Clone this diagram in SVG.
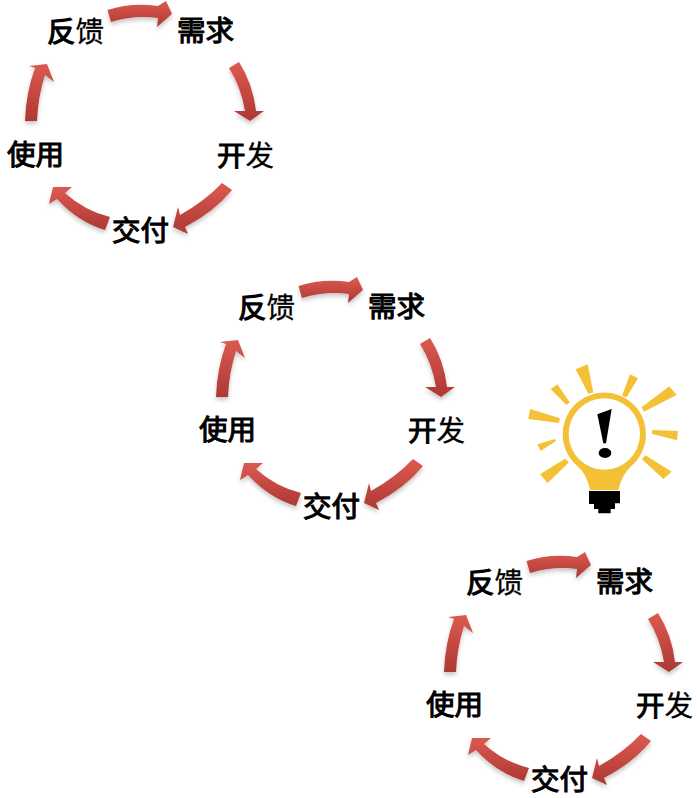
<svg xmlns="http://www.w3.org/2000/svg" xmlns:xlink="http://www.w3.org/1999/xlink" width="697" height="798" viewBox="0 0 697 798">
<style>
text{font-family:"Noto Sans CJK SC","Noto Sans",sans-serif;font-size:28.500px;font-weight:400;fill:#000;stroke:#000;stroke-width:1.100px}
.l{stroke-width:.3px}
.a{fill:url(#g);filter:url(#s)}
.y{fill:#f4c136}
.k{fill:#000}
</style>
<defs>
<linearGradient id="g" x1="0" y1="0" x2="0" y2="1"><stop offset="0" stop-color="#dc5a50"/><stop offset="1" stop-color="#ad3833"/></linearGradient>
<filter id="s" x="-30%" y="-30%" width="160%" height="170%"><feDropShadow dx="0" dy="3" stdDeviation="2" flood-color="#000" flood-opacity=".22"/></filter>
<path id="a1" d="M107.500 10Q132 2 158 6L166 1L172 14L157 27L158 18Q134 15 111 22Z"/>
<path id="a2" d="M229 68L239 62Q253 84 256 111L264 111L250 121L234 111L245 111Q241 87 229 68Z"/>
<path id="a3" d="M232 190L222 183Q205 201 180 215L178 207L173 227L188 234L185 227Q214 212 232 190Z"/>
<path id="a4" d="M110 217L105 230Q78 222 57 199L49 204L53 187L72 187L65 193Q85 211 110 217Z"/>
<path id="a5" d="M25 121Q26 92 35 68L29 66L47 64L54 82L45 75Q38 97 37 121Z"/>
</defs>
<g id="connectors">
<use xlink:href="#a1" class="a"/><use xlink:href="#a2" class="a"/><use xlink:href="#a3" class="a"/><use xlink:href="#a4" class="a"/><use xlink:href="#a5" class="a"/>
<g transform="translate(191 276)"><use xlink:href="#a1" class="a"/><use xlink:href="#a2" class="a"/><use xlink:href="#a3" class="a"/><use xlink:href="#a4" class="a"/><use xlink:href="#a5" class="a"/></g>
<g transform="translate(419 551)"><use xlink:href="#a1" class="a"/><use xlink:href="#a2" class="a"/><use xlink:href="#a3" class="a"/><use xlink:href="#a4" class="a"/><use xlink:href="#a5" class="a"/></g>
</g>
<g id="c1-fankui"><text x="47" y="41.500">反<tspan class="l">馈</tspan></text></g>
<g id="c1-xuqiu"><text x="177" y="40.500">需求</text></g>
<g id="c1-kaifa"><text x="217" y="165.500">开<tspan class="l">发</tspan></text></g>
<g id="c1-jiaofu"><text x="112" y="240.500">交付</text></g>
<g id="c1-shiyong"><text x="7" y="164.500">使用</text></g>
<g id="c2-fankui"><text x="238" y="317.500">反<tspan class="l">馈</tspan></text></g>
<g id="c2-xuqiu"><text x="368" y="316.500">需求</text></g>
<g id="c2-kaifa"><text x="408" y="440.500">开<tspan class="l">发</tspan></text></g>
<g id="c2-jiaofu"><text x="303" y="516.500">交付</text></g>
<g id="c2-shiyong"><text x="199" y="439.500">使用</text></g>
<g id="c3-fankui"><text x="466" y="592.500">反<tspan class="l">馈</tspan></text></g>
<g id="c3-xuqiu"><text x="596" y="591.500">需求</text></g>
<g id="c3-kaifa"><text x="636" y="715.500">开<tspan class="l">发</tspan></text></g>
<g id="c3-jiaofu"><text x="531" y="790">交付</text></g>
<g id="c3-shiyong"><text x="426" y="714.500">使用</text></g>
<g id="bulb" transform="translate(520 355) scale(.3333)">
<path class="y" d="M167 43L203 28L220 112L205 116ZM92 103L112 88L149 142L140 150ZM30 162L120 190L117 204L25 192ZM52 268L105 252L108 258L62 288ZM60 358L135 311L147 322L83 384ZM330 58L354 70L320 127L306 122ZM448 94L470 120L372 170L365 157ZM397 225L474 228L471 256L395 236ZM376 301L455 350L430 372L366 313Z"/>
<path class="y" d="M172 333A125 125 0 1 1 334 333Q305 360 295 405L210 405Q202 360 172 333Z"/>
<circle cx="253" cy="237" r="107" fill="#fff"/>
<path class="k" d="M207 408H300V445H285V462H272V475H235V462H222V447H207Z"/>
<path class="k" d="M232 178L275 162L258 265L250 265Z"/>
<ellipse class="k" cx="255" cy="294" rx="19" ry="15"/>
</g>
</svg>
